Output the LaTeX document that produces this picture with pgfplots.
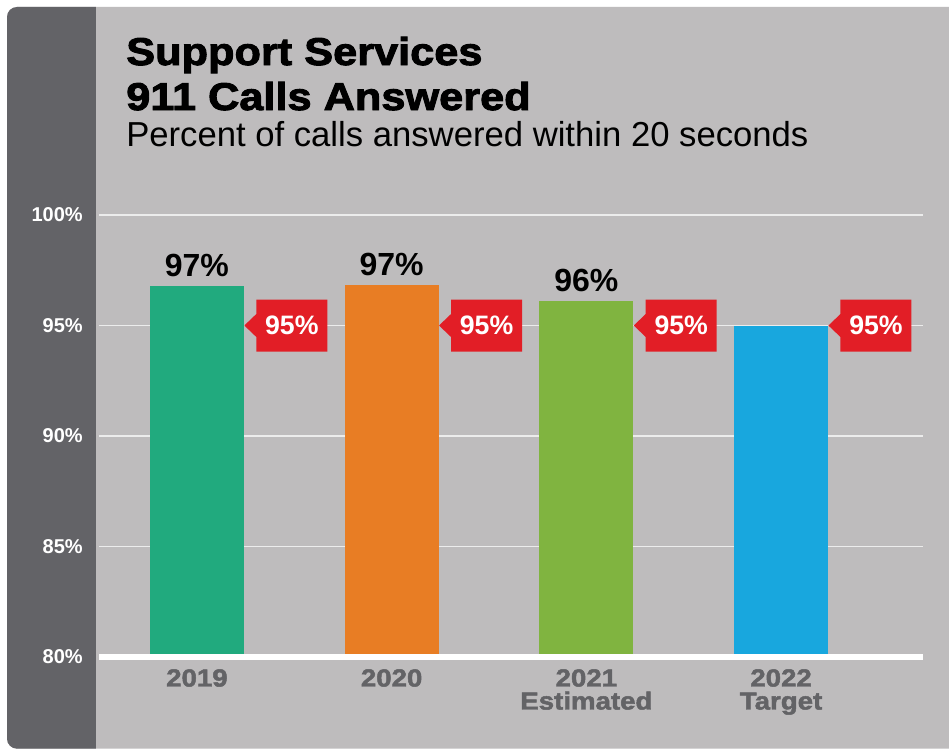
\documentclass[border=0pt]{standalone}
\usepackage{pgfplots}
\pgfplotsset{compat=1.18}
\usetikzlibrary{shapes.callouts}
\usepackage{fontspec}
\setmainfont{Liberation Sans}
\newfontfamily\heavy[FakeStretch=1.12, FakeBold=2.5]{Liberation Sans}
\newfontfamily\heavytick[FakeStretch=1.12, FakeBold=2]{Liberation Sans}
\definecolor{panel}{RGB}{190,188,189}
\definecolor{strip}{RGB}{99,99,103}
\definecolor{cgreen}{RGB}{33,170,126}
\definecolor{corange}{RGB}{232,125,36}
\definecolor{clime}{RGB}{128,180,64}
\definecolor{cblue}{RGB}{24,167,222}
\definecolor{tagred}{RGB}{226,30,38}
\definecolor{ticklab}{RGB}{99,99,102}
\definecolor{gridc}{RGB}{236,236,236}
\begin{document}
\begin{tikzpicture}
\useasboundingbox (0,0) rectangle (711.75pt,-561.75pt);
\clip (0,0) rectangle (711.75pt,-561.75pt);
\fill[white] (0,0) rectangle (711.75pt,-561.75pt);
\begin{scope}
\clip[rounded corners=7.5pt] (5.25pt,-5.25pt) rectangle (730pt,-561.5pt);
\fill[panel] (0,0) rectangle (740pt,-580pt);
\fill[strip] (0,0) rectangle (72pt,-580pt);
\end{scope}
\node[anchor=base west, inner sep=0pt, font=\heavy\bfseries\fontsize{29pt}{34pt}\selectfont] at (94.5pt,-48.75pt) {Support Services};
\node[anchor=base west, inner sep=0pt, font=\heavy\bfseries\fontsize{29pt}{34pt}\selectfont] at (94.5pt,-82.5pt) {911 Calls Answered};
\node[anchor=base west, inner sep=0pt, font=\fontsize{26pt}{30pt}\selectfont] at (94.5pt,-109.5pt) {Percent of calls answered within 20 seconds};
\begin{axis}[
  at={(74.25pt,-492.75pt)}, anchor=south west,
  scale only axis, width=618pt, height=331.5pt,
  xmin=-0.503, xmax=3.729, ymin=80, ymax=100,
  axis line style={draw=none}, tick style={draw=none}, major tick length=0pt,
  ytick={80,85,90,95,100},
  yticklabels={80\%,85\%,90\%,95\%,100\%},
  xtick={0,1,2,3},
  xticklabels={2019,2020,{2021\\Estimated},{2022\\Target}},
  xticklabel style={align=center, anchor=north, inner sep=0pt, yshift=-9pt, text=ticklab,
    font=\heavytick\bfseries\fontsize{18.5pt}{17.25pt}\selectfont},
  yticklabel style={anchor=east, inner sep=0pt, xshift=-12pt, text=white,
    font=\bfseries\fontsize{15pt}{18pt}\selectfont},
  ymajorgrids, grid style={gridc, line width=1.1pt},
  bar label/.style={nodes near coords, point meta=explicit symbolic,
    every node near coord/.append style={anchor=south, inner sep=0pt, yshift=6.5pt, text=black,
      font=\bfseries\fontsize{24pt}{28pt}\selectfont}},
]
\addplot[ybar, bar width=70.5pt, bar shift=0pt, fill=cgreen, draw=none, bar label] coordinates {(0,96.8) [97\%]};
\addplot[ybar, bar width=70.5pt, bar shift=0pt, fill=corange, draw=none, bar label] coordinates {(1,96.85) [97\%]};
\addplot[ybar, bar width=70.5pt, bar shift=0pt, fill=clime, draw=none, bar label] coordinates {(2,96.1) [96\%]};
\addplot[ybar, bar width=70.5pt, bar shift=0pt, fill=cblue, draw=none] coordinates {(3,95.0)};
\addplot[only marks, mark=text, text mark={},
  nodes near coords, point meta=explicit symbolic,
  every node near coord/.append style={rectangle callout, fill=tagred, text=white,
    font=\bfseries\fontsize{20pt}{24pt}\selectfont,
    minimum width=53.25pt, minimum height=39pt, inner sep=0pt,
    callout relative pointer={(-9pt,0pt)}, callout pointer width=17.25pt,
    anchor=pointer, xshift=35.25pt}]
  coordinates {(0,95) [95\%] (1,95) [95\%] (2,95) [95\%] (3,95) [95\%]};
\end{axis}
\draw[white, line width=4.5pt] (74.25pt,-492.75pt) -- (692.25pt,-492.75pt);
\end{tikzpicture}
\end{document}
